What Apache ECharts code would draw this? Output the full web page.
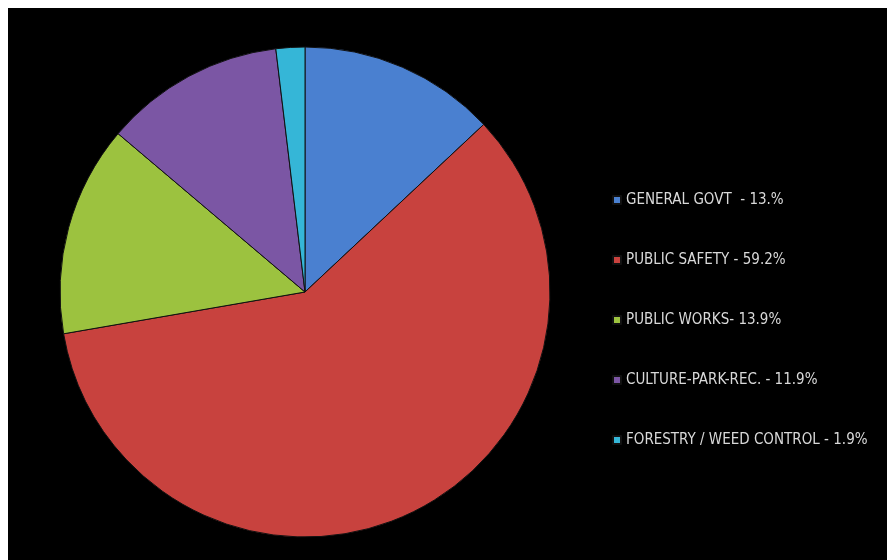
<!DOCTYPE html>
<html>
<head>
<meta charset="utf-8">
<script src="https://cdn.jsdelivr.net/npm/echarts@6/dist/echarts.min.js"></script>
<style>
  html, body { margin: 0; padding: 0; background: #fff; }
  #chart { position: absolute; left: 8px; top: 8px; width: 879px; height: 552px; background: #000; }
</style>
</head>
<body>
<div id="chart"></div>
<script>
const categories = [
  'GENERAL GOVT  - 13.%',
  'PUBLIC SAFETY - 59.2%',
  'PUBLIC WORKS- 13.9%',
  'CULTURE-PARK-REC. - 11.9%',
  'FORESTRY / WEED CONTROL - 1.9%'
];
const values = [13.0, 59.2, 13.9, 11.9, 1.9];
const colors = ['#4a80d0', '#c8423e', '#9cc23f', '#7b56a4', '#35b6d7'];

const chart = echarts.init(document.getElementById('chart'), null, { renderer: 'canvas' });
chart.setOption({
  backgroundColor: '#000',
  animation: false,
  color: colors,
  legend: {
    orient: 'vertical',
    left: 599,
    top: 179,
    itemWidth: 8,
    itemHeight: 8,
    itemGap: 44,
    icon: 'rect',
    selectedMode: false,
    textStyle: {
      color: '#d9d9d9',
      fontFamily: "'Liberation Sans Narrow', 'DejaVu Sans Condensed', sans-serif",
      fontSize: 15,
      lineHeight: 16
    },
    data: categories
  },
  series: [{
    type: 'pie',
    center: [297, 284],
    radius: [0, 245],
    startAngle: 90,
    clockwise: true,
    label: { show: false },
    labelLine: { show: false },
    itemStyle: { borderColor: '#111', borderWidth: 1 },
    emphasis: { disabled: true },
    data: categories.map((c, i) => ({ name: c, value: values[i] }))
  }]
});
</script>
</body>
</html>
